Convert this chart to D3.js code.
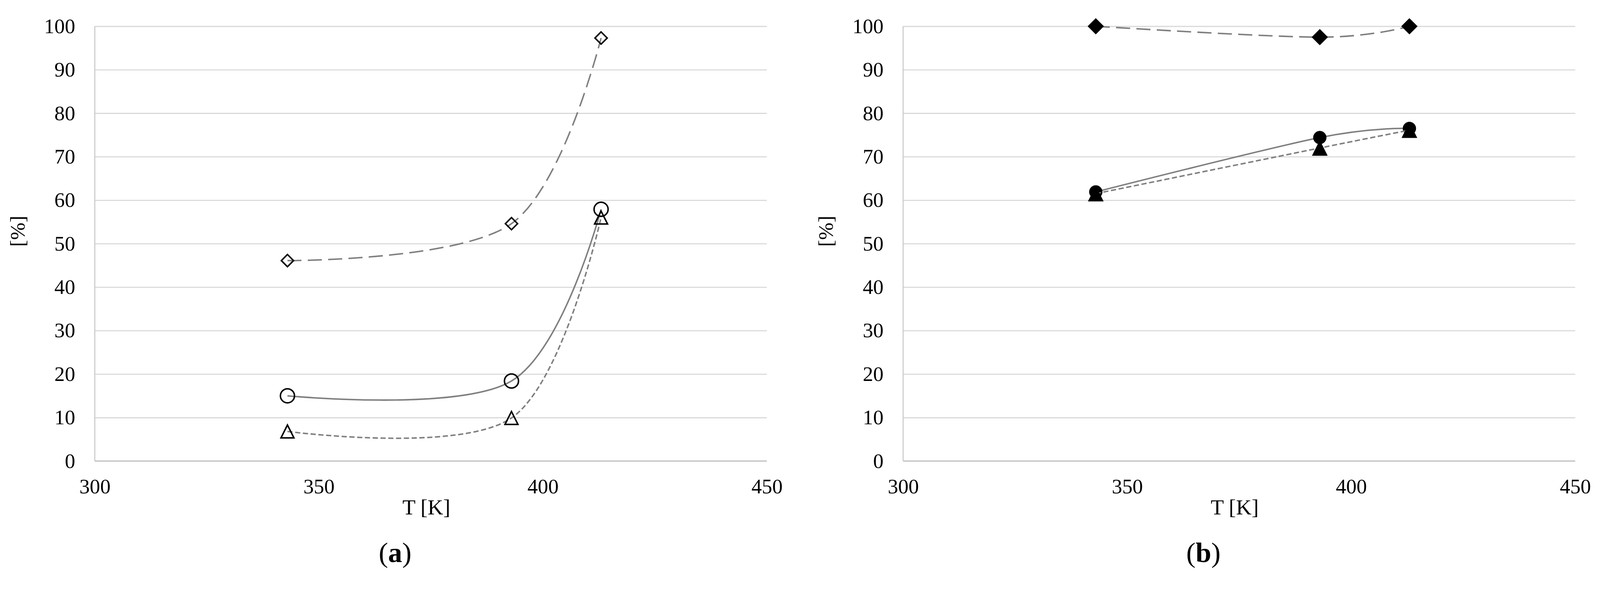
<html>
<script src="https://d3js.org/d3.v7.min.js"></script>
<style>
  html, body { margin: 0; width: 100%; height: 100%; overflow: hidden; background: #fff; }
  svg { display: block; }
  svg text { font-family: "Liberation Serif", "Times New Roman", serif; fill: #000; }
</style>
<body>
<svg id="chart" width="100%" height="100%" viewBox="0 0 4321 1550" preserveAspectRatio="xMidYMin meet"></svg>
<script>
// temperatures of the three measurements
var temperature = [343, 393, 413];

// panel (a)
var diamondA  = [46.1, 54.6, 97.3];
var circleA   = [15.0, 18.4, 57.9];
var triangleA = [6.8, 9.9, 56.0];

// panel (b)
var diamondB  = [100, 97.5, 100];
var circleB   = [61.9, 74.4, 76.5];
var triangleB = [61.5, 72.0, 76.1];

var xTicks = [300, 350, 400, 450];
var yTicks = [0, 10, 20, 30, 40, 50, 60, 70, 80, 90, 100];

var plotLeft = 256, plotTop = 71;
var width = 1815, height = 1175;
var panelShift = 2183;
var lineGray = "#7f7f7f";

// marker shapes centred on their bounding box (like Excel)
var diamondShape = {
  draw: function(ctx, size) {
    var r = Math.sqrt(size);
    ctx.moveTo(0, -r); ctx.lineTo(r, 0); ctx.lineTo(0, r); ctx.lineTo(-r, 0); ctx.closePath();
  }
};
var triangleShape = {
  draw: function(ctx, size) {
    var r = Math.sqrt(size);
    ctx.moveTo(0, -r); ctx.lineTo(r, r); ctx.lineTo(-r, r); ctx.closePath();
  }
};
var circleShape = {
  draw: function(ctx, size) {
    var r = Math.sqrt(size);
    ctx.moveTo(r, 0); ctx.arc(0, 0, r, 0, 2 * Math.PI);
  }
};

var svg = d3.select("#chart");

function drawPanel(shift, diamond, circle, triangle, letter, filled) {
  var g = svg.append("g").attr("transform", "translate(" + shift + ",0)");

  var x = d3.scaleLinear().domain([300, 450]).range([plotLeft, plotLeft + width]);
  var y = d3.scaleLinear().domain([0, 100]).range([plotTop + height, plotTop]);

  // horizontal grid + y tick labels
  var gy = g.append("g")
      .attr("transform", "translate(" + plotLeft + ",0)")
      .call(d3.axisLeft(y).tickValues(yTicks).tickSize(-width).tickPadding(53));
  gy.select(".domain").remove();
  gy.selectAll("line").attr("stroke", "#d9d9d9").attr("stroke-width", 3);
  gy.selectAll("text").attr("font-size", 56).attr("font-family", "Liberation Serif");

  var gx = g.append("g")
      .attr("transform", "translate(0," + (plotTop + height) + ")")
      .call(d3.axisBottom(x).tickValues(xTicks).tickSize(0).tickPadding(48));
  gx.select(".domain").remove();
  gx.selectAll("text").attr("font-size", 56).attr("font-family", "Liberation Serif");

  // axis lines
  g.append("line")
    .attr("x1", plotLeft).attr("x2", plotLeft + width)
    .attr("y1", y(0)).attr("y2", y(0))
    .attr("stroke", "#c4c4c4").attr("stroke-width", 3.5);
  g.append("line")
    .attr("x1", plotLeft).attr("x2", plotLeft)
    .attr("y1", y(0)).attr("y2", y(100))
    .attr("stroke", "#cccccc").attr("stroke-width", 3);

  // axis titles
  g.append("text")
    .attr("x", (x(300) + x(450)) / 2 - 12).attr("y", 1390)
    .attr("text-anchor", "middle").attr("font-size", 58)
    .text("T [K]");
  g.append("text")
    .attr("transform", "translate(" + (plotLeft - 190) + ",625) rotate(-90)")
    .attr("text-anchor", "middle").attr("font-size", 56)
    .text("[%]");

  // caption
  var cap = g.append("text")
    .attr("x", 1067).attr("y", 1519)
    .attr("text-anchor", "middle").attr("font-size", 76);
  cap.append("tspan").text("(");
  cap.append("tspan").attr("font-weight", "bold").text(letter);
  cap.append("tspan").text(")");

  var series = [
    { values: diamond,  shape: diamondShape,  dash: "38,17", size: filled ? 21.5 : 16.5 },
    { values: circle,   shape: circleShape,   dash: null,    size: filled ? 17.5 : 19 },
    { values: triangle, shape: triangleShape, dash: "14,7",  size: filled ? 20.5 : 17.5 }
  ];

  var line = d3.line()
      .x(function(d, i) { return x(temperature[i]); })
      .y(function(d) { return y(d); })
      .curve(d3.curveCardinal.tension(0));

  series.forEach(function(s) {
    g.append("path")
      .attr("d", line(s.values))
      .attr("fill", "none")
      .attr("stroke", lineGray)
      .attr("stroke-width", 4)
      .attr("stroke-dasharray", s.dash);

    g.selectAll(null)
      .data(s.values)
      .enter().append("path")
      .attr("transform", function(d, i) { return "translate(" + x(temperature[i]) + "," + y(d) + ")"; })
      .attr("d", d3.symbol().type(s.shape).size(s.size * s.size))
      .attr("fill", filled ? "#000" : "none")
      .attr("stroke", "#000")
      .attr("stroke-width", filled ? 1 : 4);
  });
}

drawPanel(0, diamondA, circleA, triangleA, "a", false);
drawPanel(panelShift, diamondB, circleB, triangleB, "b", true);
</script>
</body>
</html>
